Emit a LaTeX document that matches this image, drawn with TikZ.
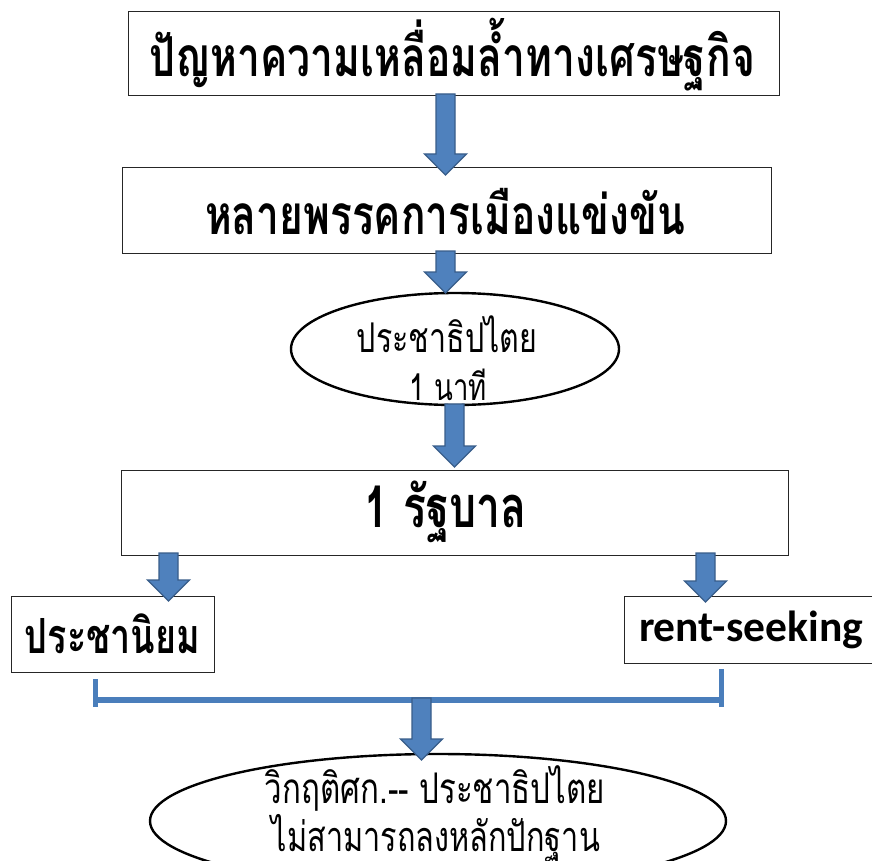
\documentclass[tikz,border=0pt]{standalone}
\usepackage{fontspec}
\usepackage{graphicx}
\newfontfamily\thai[Script=Thai]{Loma}
\newfontfamily\carlitofont{Carlito}
\usetikzlibrary{calc,shapes.geometric}
\definecolor{arrowfill}{HTML}{4F81BD}
\definecolor{arrowedge}{HTML}{385D8A}
\definecolor{bracketblue}{HTML}{4A7EBB}
\newcommand{\thaifit}[2]{\scalebox{1}[1.35]{\resizebox{#1}{!}{#2}}}
\tikzset{
  box/.style={draw=black!85, line width=1pt, fill=white, rectangle, inner sep=0pt},
  oval/.style={draw=black, line width=2.4pt, fill=white, ellipse, inner sep=0pt},
  txt/.style={inner sep=0pt, text=black},
  blockarrow/.style={draw=arrowedge, fill=arrowfill, line width=1.3pt, line join=miter,
    to path={let \p1=(\tikztostart), \p2=(\tikztotarget) in
      (\x1-9.5pt,\y1) -- (\x1+9.5pt,\y1) -- (\x1+9.5pt,\y2+21pt) -- (\x1+21pt,\y2+21pt)
      -- (\x1,\y2) -- (\x1-21pt,\y2+21pt) -- (\x1-9.5pt,\y2+21pt) -- cycle}},
  bracket/.style={draw=bracketblue, line width=5pt}
}
\begin{document}
\begin{tikzpicture}[x=1pt,y=-1pt]
\useasboundingbox (0,0) rectangle (872,861);
\clip (0,0) rectangle (872,861);
\fill[white] (0,0) rectangle (872,861);
% boxes
\node[box, minimum width=651pt, minimum height=84pt] (b1) at (453.5,54) {};
\node[txt] (b1t) at (452.5,55) {\thaifit{605pt}{\thai\bfseries ปัญหาความเหลื่อมล้ำทางเศรษฐกิจ}};
\node[box, minimum width=649pt, minimum height=85pt] (b2) at (446.5,210.5) {};
\node[txt] (b2t) at (445,212) {\thaifit{480pt}{\thai\bfseries หลายพรรคการเมืองแข่งขัน}};
\node[oval, minimum width=328pt, minimum height=112pt] (e1) at (455,349) {};
\node[txt] (e1a) at (447,334) {\thaifit{180pt}{\thai ประชาธิปไตย}};
\node[txt] (e1b) at (448.5,385) {\thaifit{77pt}{\thai 1 นาที}};
\node[box, minimum width=667pt, minimum height=85pt] (b3) at (454.5,512.5) {};
\node[txt] (b3t) at (446,512) {\thaifit{162pt}{\thai\bfseries 1 รัฐบาล}};
\node[box, minimum width=203pt, minimum height=76pt] (pl) at (112.5,634) {};
\node[txt] (plt) at (112.5,634) {\thaifit{175pt}{\thai\bfseries ประชานิยม}};
\node[box, minimum width=251pt, minimum height=67pt] (pr) at (749.5,629.5) {};
\node[txt] (prt) at (751,630) {\resizebox{224pt}{!}{\carlitofont\bfseries rent-seeking}};
\node[oval, minimum width=576pt, minimum height=134pt] (e2) at (438,821) {};
\node[txt] (e2a) at (435,788) {\thaifit{340pt}{\thai วิกฤติศก.-- ประชาธิปไตย}};
\node[txt] (e2b) at (436,838) {\thaifit{328pt}{\thai ไม่สามารถลงหลักปักฐาน}};
% arrow end points
\coordinate (a1s) at (445.5,94);  \coordinate (a1e) at (445.5,175);
\coordinate (a2s) at (445.5,251); \coordinate (a2e) at (445.5,293);
\coordinate (a3s) at (454.5,404); \coordinate (a3e) at (454.5,467);
\coordinate (a4s) at (168.5,553); \coordinate (a4e) at (168.5,601);
\coordinate (a5s) at (705.5,553); \coordinate (a5e) at (705.5,602);
\coordinate (a6s) at (421.5,698); \coordinate (a6e) at (421.5,760);
% bracket
\coordinate (brl1) at (95.5,679); \coordinate (brl2) at (95.5,707);
\coordinate (brr1) at (721.5,669); \coordinate (brr2) at (721.5,707);
\coordinate (brm1) at (95.5,700); \coordinate (brm2) at (721.5,700);
\draw[bracket, line width=6pt] (brm1) -- (brm2);
\draw[bracket] (brl1) -- (brl2);
\draw[bracket] (brr1) -- (brr2);
% arrows
\draw[blockarrow] (a1s) to (a1e);
\draw[blockarrow] (a2s) to (a2e);
\draw[blockarrow] (a3s) to (a3e);
\draw[blockarrow] (a4s) to (a4e);
\draw[blockarrow] (a5s) to (a5e);
\draw[blockarrow] (a6s) to (a6e);
\end{tikzpicture}
\end{document}
